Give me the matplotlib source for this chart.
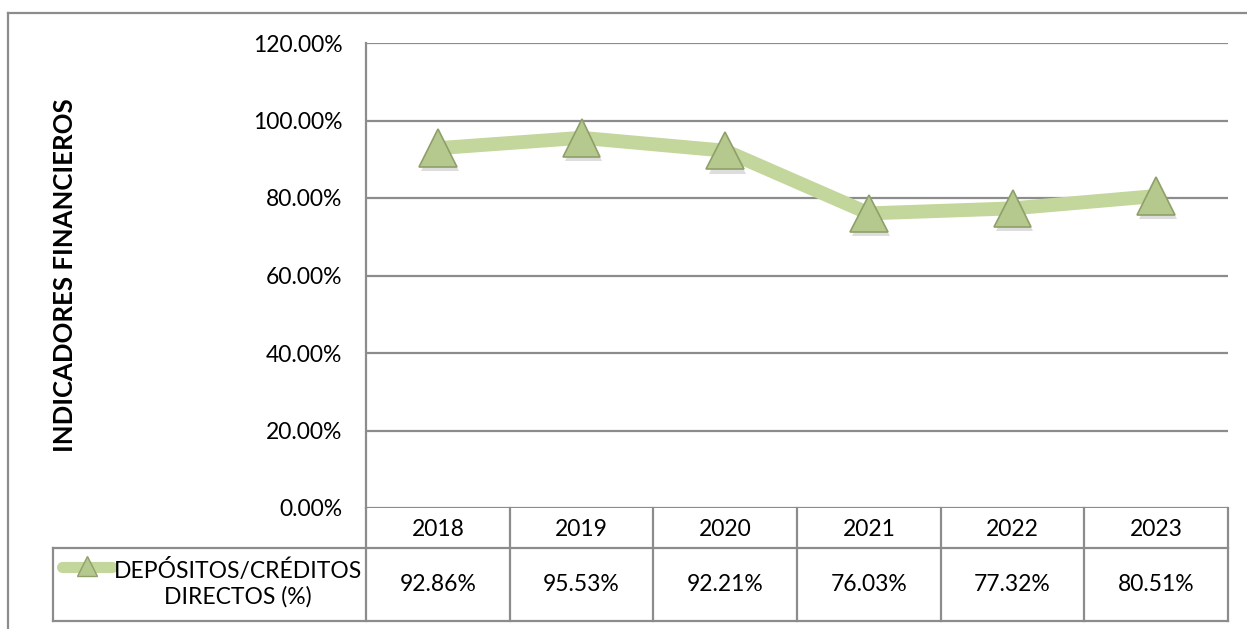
import matplotlib.pyplot as plt
import matplotlib.patheffects as pe
from matplotlib.lines import Line2D
from matplotlib.ticker import FuncFormatter

plt.rcParams['font.family'] = ['Lato', 'DejaVu Sans']

# data
years = ["2018", "2019", "2020", "2021", "2022", "2023"]
values = [92.86, 95.53, 92.21, 76.03, 77.32, 80.51]
series_name = "DEPÓSITOS/CRÉDITOS\nDIRECTOS (%)"
y_title = "INDICADORES FINANCIEROS"

W, H = 1247, 629
fig = plt.figure(figsize=(W / 100, H / 100), dpi=100)
grid_col = "#8c8c8c"
line_col = "#c3d69b"
fs = 16.5


def fx(px):
    return px / W


def fy(py):
    return 1 - py / H


def hline(x0, x1, y, **kw):
    fig.add_artist(Line2D([fx(x0), fx(x1)], [fy(y), fy(y)], color=grid_col, lw=1.6, **kw))


def vline(x, y0, y1, **kw):
    fig.add_artist(Line2D([fx(x), fx(x)], [fy(y0), fy(y1)], color=grid_col, lw=1.6, **kw))


# plot area
left, right, top, bottom = 366, 1228, 43, 508
ax = fig.add_axes([fx(left), fy(bottom), fx(right) - fx(left), fy(top) - fy(bottom)])
ax.set_xlim(-0.5, len(years) - 0.5)
ax.set_ylim(0, 120)
ax.set_yticks(range(0, 121, 20))
ax.yaxis.set_major_formatter(FuncFormatter(lambda v, p: f"{v:.2f}%"))
ax.tick_params(axis="y", length=0, pad=17, labelsize=fs)
ax.set_xticks([])
ax.grid(axis="y", color=grid_col, lw=1.6)
for s in ["top", "right", "bottom"]:
    ax.spines[s].set_visible(False)
ax.spines["left"].set_color(grid_col)
ax.spines["left"].set_linewidth(1.6)

shadow = [pe.SimplePatchShadow(offset=(1.5, -3), shadow_rgbFace="#555555", alpha=0.2), pe.Normal()]
ax.plot(range(len(years)), values, color=line_col, lw=10, solid_capstyle="round", zorder=3)
ax.plot(range(len(years)), values, ls="none", marker="^", ms=27, mfc="#b5c98f", mec="#8f9f68",
        mew=1.2, zorder=4, path_effects=shadow)

# y title
fig.text(fx(65), fy(275), y_title, rotation=90, ha="center", va="center",
         fontsize=18.5, fontweight="bold")

# data table
row1, row2, row3 = 508, 548, 621
col_w = (right - left) / len(years)
hline(53, right, row2)
hline(53, right, row3)
vline(53, row2, row3)
vline(left, bottom, row3)
for i in range(len(years)):
    xr = left + col_w * (i + 1)
    vline(xr, row1, row3)
    xc = left + col_w * (i + 0.5)
    fig.text(fx(xc), fy((row1 + row2) / 2 + 2), years[i], ha="center", va="center", fontsize=fs)
    fig.text(fx(xc), fy((row2 + row3) / 2), f"{values[i]:.2f}%", ha="center", va="center", fontsize=fs)

# legend key in table
fig.add_artist(Line2D([fx(62), fx(112)], [fy(567), fy(567)], color=line_col, lw=8,
                      solid_capstyle="round"))
fig.add_artist(Line2D([fx(87)], [fy(566)], marker="^", ms=15, mfc="#b5c98f", mec="#8f9f68",
                      mew=1, ls="none"))
fig.text(fx(238), fy(583), series_name, ha="center", va="center", fontsize=fs, linespacing=1.25)

# outer chart border
hline(8, W, 13)
vline(8, 13, H)

fig.savefig("out.png", dpi=100)
